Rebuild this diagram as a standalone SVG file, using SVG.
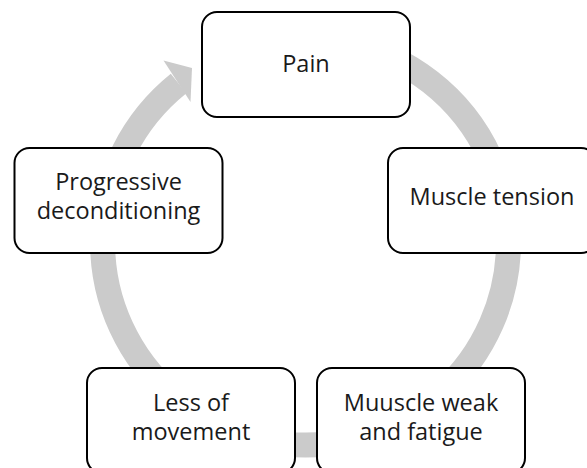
<svg xmlns="http://www.w3.org/2000/svg" width="587" height="468" viewBox="0 0 587 468">
  <style>
    .ring { fill: none; stroke: #cbcbcb; stroke-width: 25; stroke-linecap: butt; }
    .head { fill: #cbcbcb; }
    .box { fill: #ffffff; stroke: #000000; stroke-width: 2; }
    .label { font-family: "Open Sans", "Liberation Sans", sans-serif; font-size: 23.5px; fill: #1a1a1a; text-anchor: middle; }
  </style>

  <!-- cycle connector: clockwise ring ending in an arrowhead at Pain -->
  <g id="connectors">
    <path class="ring" d="M 340.75 42.1 A 203 203 0 1 1 178.6 83.6"/>
    <polygon class="head" points="163.5,60.5 192,68 190.5,102"/>
  </g>

  <g id="node-pain">
    <rect class="box" x="202" y="12" width="208" height="105" rx="15"/>
    <text class="label" x="306" y="72">Pain</text>
  </g>

  <g id="node-muscle-tension">
    <rect class="box" x="388" y="148" width="208" height="105" rx="15"/>
    <text class="label" x="492" y="205">Muscle tension</text>
  </g>

  <g id="node-muscle-weak">
    <rect class="box" x="317" y="368" width="208" height="105" rx="15"/>
    <text class="label" x="421" y="410.5">Muuscle weak</text>
    <text class="label" x="421" y="439.5">and fatigue</text>
  </g>

  <g id="node-less-movement">
    <rect class="box" x="87" y="368" width="208" height="105" rx="15"/>
    <text class="label" x="191" y="410.5">Less of</text>
    <text class="label" x="191" y="439.5">movement</text>
  </g>

  <g id="node-deconditioning">
    <rect class="box" x="14.5" y="148" width="208" height="105" rx="15"/>
    <text class="label" x="118.5" y="189.5">Progressive</text>
    <text class="label" x="118.5" y="218.5">deconditioning</text>
  </g>
</svg>
